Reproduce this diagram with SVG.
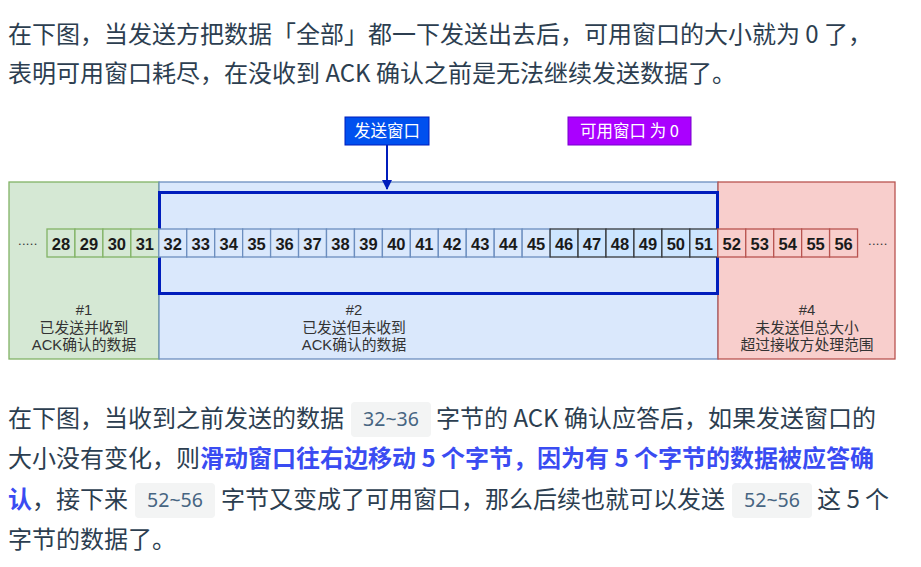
<svg xmlns="http://www.w3.org/2000/svg" width="921" height="567" viewBox="0 0 921 567">
<defs>
<style>
.para{font-family:"Noto Sans CJK SC","Noto Sans",sans-serif;font-size:24px;fill:#2c3e50}
.strong{font-weight:bold;fill:#3a4cf2}
.code{font-family:"Noto Sans","DejaVu Sans",sans-serif;font-size:19.5px;fill:#476582;text-anchor:middle}
.codebox{fill:#f3f4f4}
.lbl{font-family:"Liberation Sans","Noto Sans CJK SC",sans-serif;font-size:14.8px;fill:#333333;text-anchor:middle}
.num{font-family:"Liberation Sans",Arial,sans-serif;font-size:16.5px;font-weight:bold;fill:#1a1a1a;text-anchor:middle}
.dots{font-family:"Liberation Sans",Arial,sans-serif;font-size:13px;fill:#333333;letter-spacing:0.3px}
.cg{fill:#d5e8d4;stroke:#82b366;stroke-width:1.3}
.cb{fill:#dae8fc;stroke:#6c8ebf;stroke-width:1.3}
.cd{fill:#cce5ff;stroke:#36393d;stroke-width:1.3}
.cr{fill:#f8cecc;stroke:#b85450;stroke-width:1.3}
.tag{font-family:"Noto Sans CJK SC","Noto Sans",sans-serif;font-size:16.5px;fill:#ffffff;text-anchor:middle}
</style>
<marker id="arr" viewBox="0 0 10 10" refX="9" refY="5" markerWidth="5" markerHeight="5" orient="auto" markerUnits="strokeWidth">
<path d="M0,0 L10,5 L0,10 z" fill="#001DBC"/>
</marker>
</defs>
<rect x="0" y="0" width="921" height="567" fill="#ffffff"/>

<g id="para-top">
<text class="para" x="8" y="43">在下图，当发送方把数据「全部」都一下发送出去后，可用窗口的大小就为 0 了，</text>
<text class="para" x="8" y="82">表明可用窗口耗尽，在没收到 ACK 确认之前是无法继续发送数据了。</text>
</g>

<g id="region-1">
<rect x="9" y="182" width="150" height="177" fill="#d5e8d4" stroke="#82b366" stroke-width="1.3"/>
<text class="lbl" x="84" y="315">#1</text>
<text class="lbl" x="84" y="333">已发送并收到</text>
<text class="lbl" x="84" y="350">ACK确认的数据</text>
</g>
<g id="region-2">
<rect x="159" y="182" width="559" height="177" fill="#dae8fc" stroke="#6c8ebf" stroke-width="1.3"/>
<text class="lbl" x="354" y="315">#2</text>
<text class="lbl" x="354" y="333">已发送但未收到</text>
<text class="lbl" x="354" y="350">ACK确认的数据</text>
</g>
<g id="region-4">
<rect x="718" y="182" width="177" height="177" fill="#f8cecc" stroke="#b85450" stroke-width="1.3"/>
<text class="lbl" x="807" y="315">#4</text>
<text class="lbl" x="807" y="333">未发送但总大小</text>
<text class="lbl" x="807" y="350">超过接收方处理范围</text>
</g>

<g id="send-window">
<rect x="159.5" y="192.5" width="558" height="101" fill="none" stroke="#001DBC" stroke-width="3"/>
</g>

<g id="cells">
<text class="dots" x="18" y="245">.....</text>
<g id="c28"><rect class="cg" x="47" y="229" width="27.95" height="28"/><text class="num" x="60.98" y="249.5">28</text></g>
<g id="c29"><rect class="cg" x="74.95" y="229" width="27.95" height="28"/><text class="num" x="88.93" y="249.5">29</text></g>
<g id="c30"><rect class="cg" x="102.9" y="229" width="27.95" height="28"/><text class="num" x="116.88" y="249.5">30</text></g>
<g id="c31"><rect class="cg" x="130.85" y="229" width="27.95" height="28"/><text class="num" x="144.83" y="249.5">31</text></g>
<g id="c32"><rect class="cb" x="158.8" y="229" width="27.95" height="28"/><text class="num" x="172.78" y="249.5">32</text></g>
<g id="c33"><rect class="cb" x="186.75" y="229" width="27.95" height="28"/><text class="num" x="200.73" y="249.5">33</text></g>
<g id="c34"><rect class="cb" x="214.7" y="229" width="27.95" height="28"/><text class="num" x="228.68" y="249.5">34</text></g>
<g id="c35"><rect class="cb" x="242.65" y="229" width="27.95" height="28"/><text class="num" x="256.63" y="249.5">35</text></g>
<g id="c36"><rect class="cb" x="270.6" y="229" width="27.95" height="28"/><text class="num" x="284.58" y="249.5">36</text></g>
<g id="c37"><rect class="cb" x="298.55" y="229" width="27.95" height="28"/><text class="num" x="312.53" y="249.5">37</text></g>
<g id="c38"><rect class="cb" x="326.5" y="229" width="27.95" height="28"/><text class="num" x="340.48" y="249.5">38</text></g>
<g id="c39"><rect class="cb" x="354.45" y="229" width="27.95" height="28"/><text class="num" x="368.43" y="249.5">39</text></g>
<g id="c40"><rect class="cb" x="382.4" y="229" width="27.95" height="28"/><text class="num" x="396.38" y="249.5">40</text></g>
<g id="c41"><rect class="cb" x="410.35" y="229" width="27.95" height="28"/><text class="num" x="424.33" y="249.5">41</text></g>
<g id="c42"><rect class="cb" x="438.3" y="229" width="27.95" height="28"/><text class="num" x="452.28" y="249.5">42</text></g>
<g id="c43"><rect class="cb" x="466.25" y="229" width="27.95" height="28"/><text class="num" x="480.23" y="249.5">43</text></g>
<g id="c44"><rect class="cb" x="494.2" y="229" width="27.95" height="28"/><text class="num" x="508.18" y="249.5">44</text></g>
<g id="c45"><rect class="cb" x="522.15" y="229" width="27.95" height="28"/><text class="num" x="536.13" y="249.5">45</text></g>
<g id="c46"><rect class="cd" x="550.1" y="229" width="27.95" height="28"/><text class="num" x="564.08" y="249.5">46</text></g>
<g id="c47"><rect class="cd" x="578.05" y="229" width="27.95" height="28"/><text class="num" x="592.03" y="249.5">47</text></g>
<g id="c48"><rect class="cd" x="606" y="229" width="27.95" height="28"/><text class="num" x="619.98" y="249.5">48</text></g>
<g id="c49"><rect class="cd" x="633.95" y="229" width="27.95" height="28"/><text class="num" x="647.93" y="249.5">49</text></g>
<g id="c50"><rect class="cd" x="661.9" y="229" width="27.95" height="28"/><text class="num" x="675.88" y="249.5">50</text></g>
<g id="c51"><rect class="cd" x="689.85" y="229" width="27.95" height="28"/><text class="num" x="703.83" y="249.5">51</text></g>
<g id="c52"><rect class="cr" x="717.8" y="229" width="27.95" height="28"/><text class="num" x="731.78" y="249.5">52</text></g>
<g id="c53"><rect class="cr" x="745.75" y="229" width="27.95" height="28"/><text class="num" x="759.73" y="249.5">53</text></g>
<g id="c54"><rect class="cr" x="773.7" y="229" width="27.95" height="28"/><text class="num" x="787.68" y="249.5">54</text></g>
<g id="c55"><rect class="cr" x="801.65" y="229" width="27.95" height="28"/><text class="num" x="815.63" y="249.5">55</text></g>
<g id="c56"><rect class="cr" x="829.6" y="229" width="27.95" height="28"/><text class="num" x="843.58" y="249.5">56</text></g>
<text class="dots" x="868" y="245">.....</text>
</g>

<g id="tag-send-window">
<rect x="345" y="117" width="84" height="28" fill="#0050ef" stroke="#001DBC" stroke-width="1"/>
<text class="tag" x="387" y="137">发送窗口</text>
</g>
<g id="tag-available">
<rect x="568" y="117" width="123" height="28" fill="#aa00ff" stroke="#7700cc" stroke-width="1"/>
<text class="tag" x="629.5" y="137">可用窗口 为 0</text>
</g>

<g id="connectors">
<line x1="387" y1="145" x2="387" y2="189" stroke="#001DBC" stroke-width="2" marker-end="url(#arr)"/>
</g>

<g id="para-bottom">
<text class="para" x="8" y="427">在下图，当收到之前发送的数据</text>
<rect class="codebox" x="351" y="402" width="80" height="35" rx="4"/>
<text class="code" x="391" y="426">32~36</text>
<text class="para" x="436" y="427">字节的 ACK 确认应答后，如果发送窗口的</text>

<text class="para" x="8" y="467">大小没有变化，则<tspan class="strong">滑动窗口往右边移动 5 个字节，因为有 5 个字节的数据被应答确</tspan></text>

<text class="para" x="8" y="508"><tspan class="strong">认</tspan>，接下来</text>
<rect class="codebox" x="135" y="483" width="80" height="35" rx="4"/>
<text class="code" x="175" y="507">52~56</text>
<text class="para" x="221" y="508">字节又变成了可用窗口，那么后续也就可以发送</text>
<rect class="codebox" x="732" y="483" width="80" height="35" rx="4"/>
<text class="code" x="772" y="507">52~56</text>
<text class="para" x="817" y="508">这 5 个</text>

<text class="para" x="8" y="548">字节的数据了。</text>
</g>
</svg>
